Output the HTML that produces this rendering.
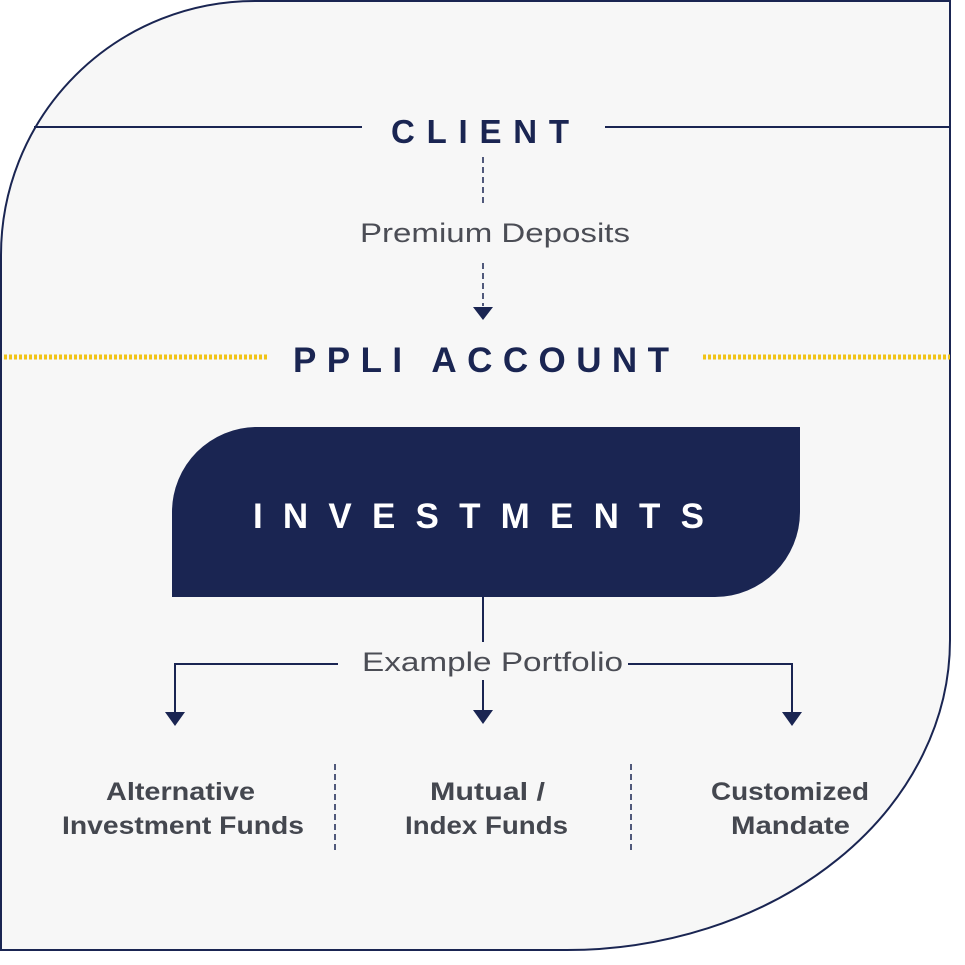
<!DOCTYPE html>
<html><head><style>
html,body{margin:0;padding:0;background:#fff;}
svg{display:block;}
text{font-family:"Liberation Sans",sans-serif;}
</style></head><body>
<svg width="965" height="965" viewBox="0 0 965 965" xmlns="http://www.w3.org/2000/svg">
<path d="M255 1 L950 1 L950 640 A383 310 0 0 1 567 950 L1 950 L1 255 A254 254 0 0 1 255 1 Z" fill="#f7f7f7" stroke="#1a2552" stroke-width="2"/>
<line x1="34" y1="127" x2="362" y2="127" stroke="#1a2552" stroke-width="2"/>
<line x1="605" y1="127" x2="950" y2="127" stroke="#1a2552" stroke-width="2"/>
<text x="391" y="143" font-size="33" font-weight="bold" fill="#1a2552" textLength="178" lengthAdjust="spacing">CLIENT</text>
<line x1="483" y1="157" x2="483" y2="204" stroke="#1a2552" stroke-width="1.5" stroke-dasharray="6,4"/>
<text x="360" y="242" font-size="27" fill="#4b4d55" textLength="270" lengthAdjust="spacingAndGlyphs">Premium Deposits</text>
<line x1="483" y1="263" x2="483" y2="306" stroke="#1a2552" stroke-width="1.5" stroke-dasharray="6,4"/>
<polygon points="473,307 493,307 483,320" fill="#1a2552"/>
<line x1="4" y1="357" x2="268" y2="357" stroke="#f0c419" stroke-width="5" stroke-dasharray="3,2"/>
<line x1="703" y1="357" x2="950" y2="357" stroke="#f0c419" stroke-width="5" stroke-dasharray="3,2"/>
<text x="293" y="372" font-size="35" font-weight="bold" fill="#1a2552" textLength="376" lengthAdjust="spacing">PPLI ACCOUNT</text>
<path d="M172 597 L172 512 A85 85 0 0 1 257 427 L800 427 L800 512 A85 85 0 0 1 715 597 Z" fill="#1a2552"/>
<text x="253" y="528" font-size="35" font-weight="bold" fill="#ffffff" textLength="451" lengthAdjust="spacing">INVESTMENTS</text>
<line x1="483" y1="597" x2="483" y2="642" stroke="#1a2552" stroke-width="2"/>
<text x="362" y="671" font-size="27" fill="#4b4d55" textLength="261" lengthAdjust="spacingAndGlyphs">Example Portfolio</text>
<polyline points="338,664 175,664 175,713" fill="none" stroke="#1a2552" stroke-width="2"/>
<polyline points="628,664 792,664 792,713" fill="none" stroke="#1a2552" stroke-width="2"/>
<line x1="483" y1="680" x2="483" y2="712" stroke="#1a2552" stroke-width="2"/>
<polygon points="165,712 185,712 175,726" fill="#1a2552"/>
<polygon points="473,710 493,710 483,724" fill="#1a2552"/>
<polygon points="782,712 802,712 792,726" fill="#1a2552"/>
<line x1="335" y1="764" x2="335" y2="852" stroke="#1a2552" stroke-width="1.5" stroke-dasharray="6,4"/>
<line x1="631" y1="764" x2="631" y2="852" stroke="#1a2552" stroke-width="1.5" stroke-dasharray="6,4"/>
<g font-size="25" font-weight="bold" fill="#44474f">
<text x="106" y="800" textLength="149" lengthAdjust="spacingAndGlyphs">Alternative</text>
<text x="62" y="834" textLength="242" lengthAdjust="spacingAndGlyphs">Investment Funds</text>
<text x="430" y="800" textLength="115" lengthAdjust="spacingAndGlyphs">Mutual /</text>
<text x="405" y="834" textLength="163" lengthAdjust="spacingAndGlyphs">Index Funds</text>
<text x="711" y="800" textLength="158" lengthAdjust="spacingAndGlyphs">Customized</text>
<text x="731" y="834" textLength="119" lengthAdjust="spacingAndGlyphs">Mandate</text>
</g>
</svg>
</body></html>
